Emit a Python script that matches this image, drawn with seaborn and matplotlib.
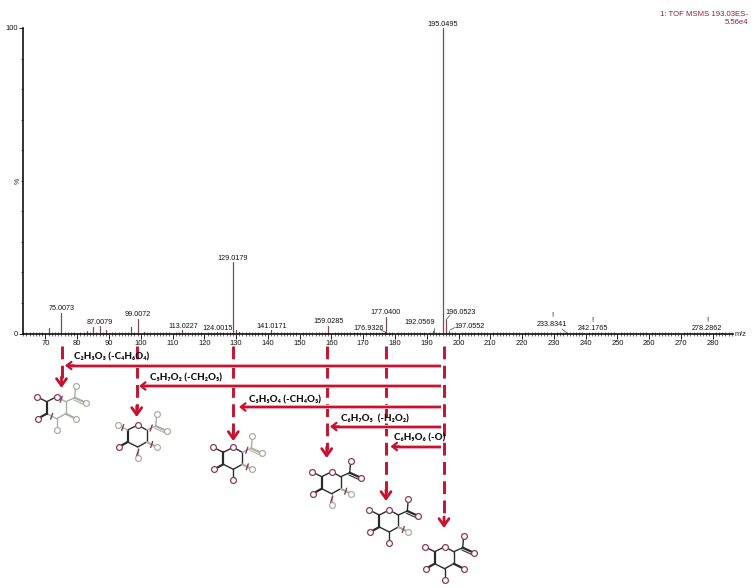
import pandas as pd
import seaborn as sns
import matplotlib.pyplot as plt
import matplotlib.patheffects as pe
from matplotlib.ticker import MultipleLocator

# spectrum peaks
mz = [71, 75.0073, 83, 85, 87.0079, 89, 97, 99.0072, 101, 113.0227, 124.0015, 129.0179, 130, 131,
      141.0171, 159.0285, 176.9326, 177.04, 192.0569, 195.0495, 196.0523, 197.0552,
      233.8341, 242.1765, 278.2862]
intensity = [1.8, 6.6, 0.8, 2.2, 2.4, 1.2, 2.0, 4.7, 0.5, 1.1, 0.4, 23.4, 1.0, 0.6,
             1.0, 2.4, 0.5, 5.5, 0.8, 100, 4.4, 0.8, 0.2, 0.2, 0.2]

x_ticks = list(range(70, 290, 10))

# peak labels, placed in pixels of the picture
peak_labels = ['195.0495', '129.0179', '75.0073', '87.0079', '99.0072', '113.0227', '124.0015',
               '141.0171', '159.0285', '176.9326', '177.0400', '192.0569', '196.0523', '197.0552',
               '233.8341', '242.1765', '278.2862']
label_x = [443, 233, 61.5, 99.5, 138, 183, 218, 271.5, 329, 369, 386, 419.7, 461, 469.3, 552.3, 592.7, 707.3]
label_y = [24, 258, 309, 322.3, 314.3, 326, 328.7, 326, 321.7, 328.7, 312, 323, 313, 326.3, 324.7, 329, 329]

# fragment arrows
frag_names = ['C₂H₃O₃ (-C₄H₆O₄)', 'C₅H₇O₂ (-CH₂O₅)', 'C₅H₅O₄ (-CH₄O₃)', 'C₆H₇O₅  (-H₂O₂)', 'C₆H₉O₆ (-O)']
frag_row = [365.5, 386, 407, 426.5, 446.5]
frag_tip = [65, 139, 239, 330, 390.5]
frag_text_x = [74, 150, 249, 341, 394]
frag_text_y = [357, 378, 399.5, 419, 438]

drop_x = [61.5, 136.7, 233.3, 326.7, 386, 444]
drop_end = [388, 417, 441, 458, 501, 528]

# ring oxygen of each structure, the atoms that are greyed out and the cut bonds
mol_x = [56.7, 137.7, 233.3, 331.7, 389.3, 444.7]
mol_y = [396.7, 425, 447.3, 471.7, 510, 546.7]
mol_grey = [['C5', 'C4', 'C3', 'O4', 'O3', 'C6', 'O61', 'O62'],
            ['O1', 'O3', 'O4', 'C6', 'O61', 'O62'],
            ['O4', 'C6', 'O61', 'O62'],
            ['O4', 'O3'],
            ['O4'],
            []]
mol_cuts = [[('O0', 'C5'), ('C2', 'C3')],
            [('C1', 'O1'), ('C5', 'C6'), ('C4', 'O4'), ('C3', 'O3')],
            [('C5', 'C6'), ('C4', 'O4')],
            [('C4', 'O4'), ('C3', 'O3')],
            [('C4', 'O4')],
            []]

atoms = {'O0': (0, 0), 'C5': (9, 5), 'C4': (9, 17), 'C3': (0, 22), 'C2': (-10, 17), 'C1': (-10, 5),
         'O1': (-20, 0), 'O2': (-19, 22), 'O3': (0, 33), 'O4': (19, 22), 'C6': (18, 1),
         'O61': (19, -11), 'O62': (29, 6)}
bonds = [('O0', 'C5'), ('C5', 'C4'), ('C4', 'C3'), ('C3', 'C2'), ('C2', 'C1'), ('C1', 'O0'),
         ('C1', 'O1'), ('C2', 'O2'), ('C3', 'O3'), ('C4', 'O4'), ('C5', 'C6'), ('C6', 'O61'), ('C6', 'O62')]
thick_bonds = [('C2', 'O2'), ('C2', 'C1'), ('C4', 'O4'), ('C6', 'O62')]
oxygens = ['O0', 'O1', 'O2', 'O3', 'O4', 'O61', 'O62']

RED = '#c4122f'
MAROON = '#8a3a5c'
GREY = '#a9b0a2'
DARK = '#2b2b2b'
PEAK = '#7d4b58'

sns.set_theme(style='white')
plt.rcParams['font.family'] = ['Liberation Sans', 'DejaVu Sans']

W, H = 756, 588
base_y, top_y = 333.5, 28
left_x, right_x = 23, 733
fig = plt.figure(figsize=(W / 100, H / 100), dpi=100)
ax = fig.add_axes([left_x / W, 1 - base_y / H, (right_x - left_x) / W, (base_y - top_y) / H])

# one two-point line per peak
peaks = pd.DataFrame({'peak': list(range(len(mz))) * 2,
                      'mz': mz * 2,
                      'intensity': [0] * len(mz) + intensity})
sns.lineplot(data=peaks, x='mz', y='intensity', units='peak', estimator=None, sort=False,
             color=PEAK, linewidth=0.9, ax=ax, legend=False)

ax.set_xlim(62.92, 286.4)
ax.set_ylim(0, 100)
ax.set_xlabel('')
ax.set_ylabel('')
sns.despine(ax=ax)
for side in ['left', 'bottom']:
    ax.spines[side].set_color('#111111')
    ax.spines[side].set_linewidth(1.2)
ax.set_xticks(x_ticks)
ax.xaxis.set_minor_locator(MultipleLocator(1))
ax.yaxis.set_minor_locator(MultipleLocator(10))
ax.set_yticks([0, 100])
ax.tick_params(axis='x', which='major', direction='out', length=3.5, width=0.7, labelsize=5.4,
               pad=1.5, bottom=True, labelcolor='#111111', color='#222222')
ax.tick_params(axis='x', which='minor', direction='inout', length=2.5, width=0.5, bottom=True, color='#333333')
ax.tick_params(axis='y', which='major', direction='out', length=3, width=0.7, labelsize=5.4, pad=1,
               left=True, labelcolor='#111111')
ax.tick_params(axis='y', which='minor', direction='out', length=1.5, width=0.5, left=True)

# overlay in picture pixels for labels, arrows and structures
ov = fig.add_axes([0, 0, 1, 1], facecolor='none')
ov.set_xlim(0, W)
ov.set_ylim(H, 0)
ov.axis('off')

for t, x, y in zip(peak_labels, label_x, label_y):
    ov.text(x, y, t, fontsize=5.2, ha='center', va='center', color='#111111')
for x, y in [(552, 315.7), (592.7, 320), (707, 320)]:
    ov.text(x, y, '!', fontsize=5.2, ha='center', va='center', color='#111111')
for x0, y0, x1, y1 in [(380, 329.5, 386, 332.5), (434, 328, 434, 333), (446, 320, 450, 315),
                       (450, 330, 455, 327.5), (562, 329, 567, 333)]:
    ov.plot([x0, x1], [y0, y1], color='#444444', lw=0.5)

ov.text(18, 181, '%', fontsize=5, rotation=90, ha='center', va='center', color='#222222')
ov.text(741, 335, 'm/z', fontsize=5.4, ha='center', va='center', color='#222222')
ov.text(748, 14, '1: TOF MSMS 193.03ES-', fontsize=5.6, ha='right', va='center', color='#8a2040')
ov.text(748, 23, '5.56e4', fontsize=5.6, ha='right', va='center', color='#8a2040')

halo = [pe.Stroke(linewidth=2.9, foreground='#f3b6c2'), pe.Normal()]

# dashed drops
for x, end in zip(drop_x, drop_end):
    ov.plot([x, x], [346, end - 8], color=RED, lw=2.1, linestyle=(0, (4.4, 2.2)), solid_capstyle='butt')
    ov.annotate('', xy=(x, end), xytext=(x, end - 11),
                arrowprops=dict(arrowstyle='->,head_length=0.42,head_width=0.3', color=RED, lw=2.0,
                                shrinkA=0, shrinkB=0))

# losses, from the precursor back to each fragment
for row, tip, name, tx, ty in zip(frag_row, frag_tip, frag_names, frag_text_x, frag_text_y):
    ov.plot([tip + 3, 441], [row, row], color=RED, lw=1.6, solid_capstyle='butt', path_effects=halo)
    ov.annotate('', xy=(tip, row), xytext=(tip + 9, row),
                arrowprops=dict(arrowstyle='->,head_length=0.28,head_width=0.22', color=RED, lw=1.6,
                                shrinkA=0, shrinkB=0))
    ov.text(tx, ty, name, fontsize=7, fontweight='black', family=['Lato', 'DejaVu Sans'],
            ha='left', va='center', color='#111111', zorder=6)

# sugar structures
for cx, cy, grey, cuts in zip(mol_x, mol_y, mol_grey, mol_cuts):
    for a, b in bonds:
        xa, ya = atoms[a]
        xb, yb = atoms[b]
        c = GREY if (a in grey or b in grey) else DARK
        ov.plot([cx + xa, cx + xb], [cy + ya, cy + yb], color=c,
                lw=1.6 if (a, b) in thick_bonds else 1.0, zorder=3)
        if (a, b) == ('C6', 'O62'):
            ov.plot([cx + xa - 1, cx + xb - 1], [cy + ya + 2.2, cy + yb + 2.2], color=c, lw=0.8, zorder=3)
    for a, b in cuts:
        mx = cx + (atoms[a][0] + atoms[b][0]) / 2
        my = cy + (atoms[a][1] + atoms[b][1]) / 2
        ov.plot([mx - 1, mx + 1], [my + 3, my - 3], color=MAROON, lw=1.0, zorder=5)
    for a in oxygens:
        xa, ya = atoms[a]
        c = GREY if a in grey else MAROON
        ov.plot(cx + xa, cy + ya, 'o', ms=4.2, mfc='white', mec=c, mew=0.9, zorder=4)

fig.savefig('out.png', dpi=100)
